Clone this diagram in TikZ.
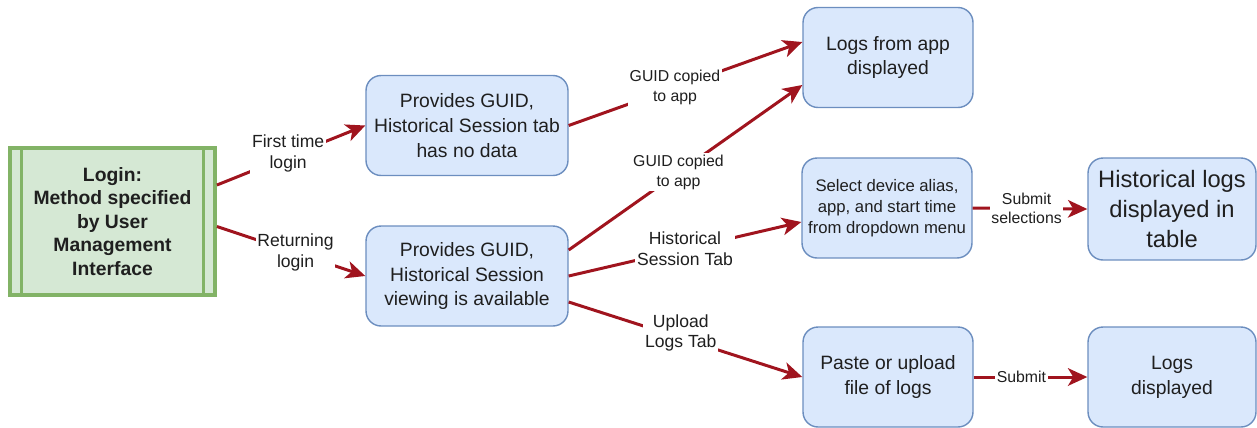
\documentclass[tikz,border=0pt]{standalone}
\usepackage{fontspec}
\setmainfont{Liberation Sans}
\usetikzlibrary{arrows.meta}

\definecolor{boxfill}{HTML}{DAE8FC}
\definecolor{boxline}{HTML}{6C8EBF}
\definecolor{loginfill}{HTML}{D5E8D4}
\definecolor{loginline}{HTML}{82B366}
\definecolor{flowred}{HTML}{A0141E}

\begin{document}
\begin{tikzpicture}[x=0.02cm, y=-0.02cm,
    main box/.style={rectangle, rounded corners=0.3cm, draw=boxline, fill=boxfill, line width=0.8pt, minimum width=3.4cm, minimum height=2cm, align=center, text=black!88, font=\fontsize{11}{14.2}\selectfont},
    login box/.style={rectangle, draw=loginline, fill=loginfill, line width=2.2pt, minimum width=4.1cm, minimum height=2.94cm, align=center, text=black!88, font=\fontsize{11}{13.4}\selectfont\bfseries},
    flow/.style={draw=flowred, line width=1.7pt, -{Stealth[length=11pt, width=10pt, inset=3pt]}},
    lbl/.style={fill=white, inner sep=1pt, align=center, text=black!88, font=\fontsize{10}{11.8}\selectfont},
    small lbl/.style={lbl, font=\fontsize{9}{11.2}\selectfont}]

    \useasboundingbox (0,0) rectangle (1257,427);

    % Login
    \node[login box] (login) at (112.5,221.5) {Login:\\Method specified\\by User\\Management\\Interface};
    \draw[loginline, line width=1.6pt] ([xshift=0.27cm]login.north west) -- ([xshift=0.27cm]login.south west);
    \draw[loginline, line width=1.6pt] ([xshift=-0.27cm]login.north east) -- ([xshift=-0.27cm]login.south east);

    % GUID boxes
    \node[main box, minimum width=4.04cm] (noData) at (467,125.5) {Provides GUID,\\Historical Session tab\\has no data};
    \node[main box, minimum width=4.04cm] (viewing) at (467,276) {Provides GUID,\\Historical Session\\viewing is available};

    % Results
    \node[main box] (appLogs) at (888,57.5) {Logs from app\\displayed};
    \node[main box, font=\fontsize{9.5}{12}\selectfont] (select) at (887,208) {Select device alias,\\app, and start time\\from dropdown menu};
    \node[main box, minimum width=3.36cm, minimum height=2.04cm, font=\fontsize{13.5}{17}\selectfont] (histLogs) at (1172,209) {Historical logs\\displayed in\\table};
    \node[main box] (paste) at (888,377) {Paste or upload\\file of logs};
    \node[main box, minimum width=3.36cm] (shownLogs) at (1172,377) {Logs\\displayed};

    % Edges
    \draw[flow] ([yshift=0.73cm]login.east) -- node[lbl, pos=0.48, yshift=0.06cm] {First time\\login} (noData.west);
    \draw[flow] ([yshift=-0.1cm]login.east) -- node[lbl, pos=0.53] {Returning\\login} (viewing.west);

    \draw[flow] (noData.east) -- node[small lbl, pos=0.455] {GUID copied\\to app} ([yshift=0.31cm]appLogs.west);
    \draw[flow] ([yshift=0.52cm]viewing.east) -- node[small lbl, pos=0.47] {GUID copied\\to app} ([yshift=-0.55cm]appLogs.west);
    \draw[flow] (viewing.east) -- node[lbl, pos=0.5] {Historical\\Session Tab} ([yshift=-0.28cm]select.west);
    \draw[flow] ([yshift=-0.52cm]viewing.east) -- node[lbl, pos=0.48, yshift=0.1cm] {Upload\\Logs Tab} (paste.west);

    \draw[flow] (select.east) -- node[small lbl, pos=0.47] {Submit\\selections} (histLogs.west);
    \draw[flow] (paste.east) -- node[small lbl, pos=0.42] {Submit} (shownLogs.west);

\end{tikzpicture}
\end{document}
